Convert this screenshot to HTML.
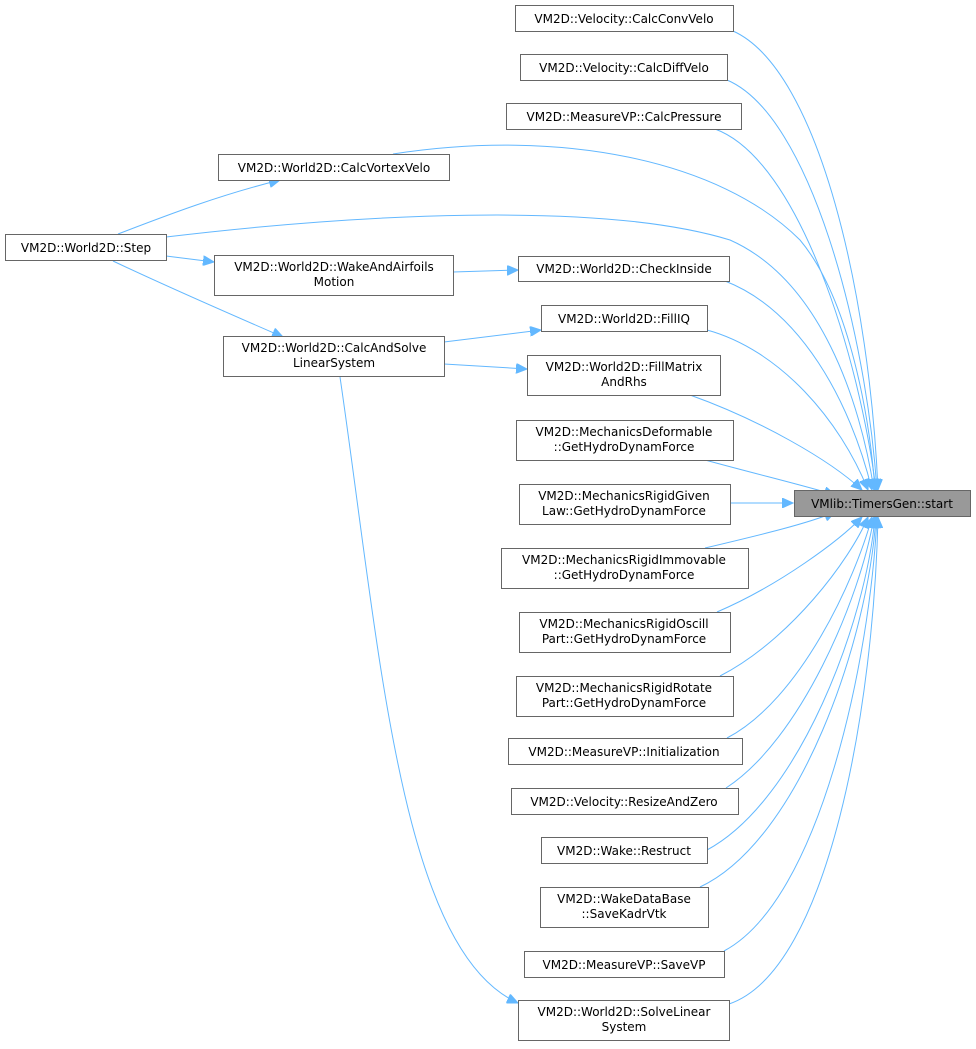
<!DOCTYPE html>
<html><head><meta charset="utf-8"><style>
body{margin:0;background:#fff}
svg{display:block}
text{font-family:"DejaVu Sans","Liberation Sans",sans-serif;font-size:12px;fill:#000;text-anchor:middle}
rect{fill:#fff;stroke:#666;stroke-width:1}
path{fill:none;stroke:#63b8ff;stroke-width:1}
</style></head><body>
<svg width="976" height="1049" viewBox="0 0 976 1049">
<defs><marker id="a" markerWidth="12" markerHeight="10" refX="11" refY="5" orient="auto" markerUnits="userSpaceOnUse"><path d="M0,0 L11,5 L0,10 Z" style="fill:#63b8ff;stroke:#63b8ff"/></marker></defs>
<g marker-end="url(#a)">
<path d="M733,31 C820,70 870,300 878,490"/>
<path d="M727,80 C810,115 866,330 877,490"/>
<path d="M715,129 C800,160 860,360 876,490"/>
<path d="M393,154 C560,128 720,160 800,240 C850,300 870,420 875,490"/>
<path d="M166,237 C350,215 600,200 730,240 C820,280 860,400 874,490"/>
<path d="M725,281 C800,310 850,400 872,490"/>
<path d="M707,330 C780,350 840,420 868,490"/>
<path d="M690,395 C760,420 830,460 862,490"/>
<path d="M705,460 C760,475 810,487 835,495"/>
<path d="M730,503 L793,503"/>
<path d="M705,548 C760,535 810,523 835,512"/>
<path d="M717,612 C780,585 840,540 862,517"/>
<path d="M720,676 C790,640 850,560 868,517"/>
<path d="M727,738 C800,700 855,580 872,517"/>
<path d="M726,788 C800,740 860,600 874,517"/>
<path d="M707,850 C800,800 866,620 875,517"/>
<path d="M700,887 C800,840 868,640 876,517"/>
<path d="M724,951 C820,900 870,660 877,517"/>
<path d="M729,1004 C830,970 874,700 878,517"/>
<path d="M118,234 C170,214 220,195 280,180"/>
<path d="M166,256 L214,262"/>
<path d="M453,272 L518,270"/>
<path d="M113,261 C170,288 230,314 283,337"/>
<path d="M444,342 L541,330"/>
<path d="M444,364 L527,369"/>
<path d="M340,377 C380,650 400,950 518,1003"/>
</g>
<rect x="515.5" y="5.5" width="218" height="26"/><text x="624" y="23">VM2D::Velocity::CalcConvVelo</text>
<rect x="520.5" y="54.5" width="207" height="26"/><text x="624" y="72">VM2D::Velocity::CalcDiffVelo</text>
<rect x="506.5" y="103.5" width="235" height="26"/><text x="624" y="121">VM2D::MeasureVP::CalcPressure</text>
<rect x="218.5" y="154.5" width="231" height="26"/><text x="334" y="172">VM2D::World2D::CalcVortexVelo</text>
<rect x="5.5" y="234.5" width="161" height="26"/><text x="86" y="252">VM2D::World2D::Step</text>
<rect x="214.5" y="255.5" width="239" height="40"/><text x="334" y="271">VM2D::World2D::WakeAndAirfoils</text><text x="334" y="286">Motion</text>
<rect x="518.5" y="256.5" width="211" height="25"/><text x="624" y="273">VM2D::World2D::CheckInside</text>
<rect x="541.5" y="305.5" width="166" height="26"/><text x="624" y="323">VM2D::World2D::FillIQ</text>
<rect x="223.5" y="336.5" width="221" height="40"/><text x="334" y="352">VM2D::World2D::CalcAndSolve</text><text x="334" y="367">LinearSystem</text>
<rect x="527.5" y="355.5" width="193" height="40"/><text x="624" y="371">VM2D::World2D::FillMatrix</text><text x="624" y="386">AndRhs</text>
<rect x="516.5" y="420.5" width="217" height="40"/><text x="624" y="436">VM2D::MechanicsDeformable</text><text x="624" y="451">::GetHydroDynamForce</text>
<rect x="519.5" y="484.5" width="211" height="40"/><text x="624" y="500">VM2D::MechanicsRigidGiven</text><text x="624" y="515">Law::GetHydroDynamForce</text>
<rect x="501.5" y="548.5" width="247" height="40"/><text x="624" y="564">VM2D::MechanicsRigidImmovable</text><text x="624" y="579">::GetHydroDynamForce</text>
<rect x="519.5" y="612.5" width="211" height="40"/><text x="624" y="628">VM2D::MechanicsRigidOscill</text><text x="624" y="643">Part::GetHydroDynamForce</text>
<rect x="516.5" y="676.5" width="217" height="40"/><text x="624" y="692">VM2D::MechanicsRigidRotate</text><text x="624" y="707">Part::GetHydroDynamForce</text>
<rect x="508.5" y="738.5" width="234" height="26"/><text x="624" y="756">VM2D::MeasureVP::Initialization</text>
<rect x="511.5" y="788.5" width="227" height="26"/><text x="624" y="806">VM2D::Velocity::ResizeAndZero</text>
<rect x="541.5" y="837.5" width="166" height="26"/><text x="624" y="855">VM2D::Wake::Restruct</text>
<rect x="540.5" y="887.5" width="168" height="40"/><text x="624" y="903">VM2D::WakeDataBase</text><text x="624" y="918">::SaveKadrVtk</text>
<rect x="524.5" y="951.5" width="200" height="26"/><text x="624" y="969">VM2D::MeasureVP::SaveVP</text>
<rect x="518.5" y="1000.5" width="211" height="40"/><text x="624" y="1016">VM2D::World2D::SolveLinear</text><text x="624" y="1031">System</text>
<rect x="794.5" y="490.5" width="176" height="26" style="fill:#999"/><text x="882" y="508">VMlib::TimersGen::start</text>
</svg>
</body></html>
